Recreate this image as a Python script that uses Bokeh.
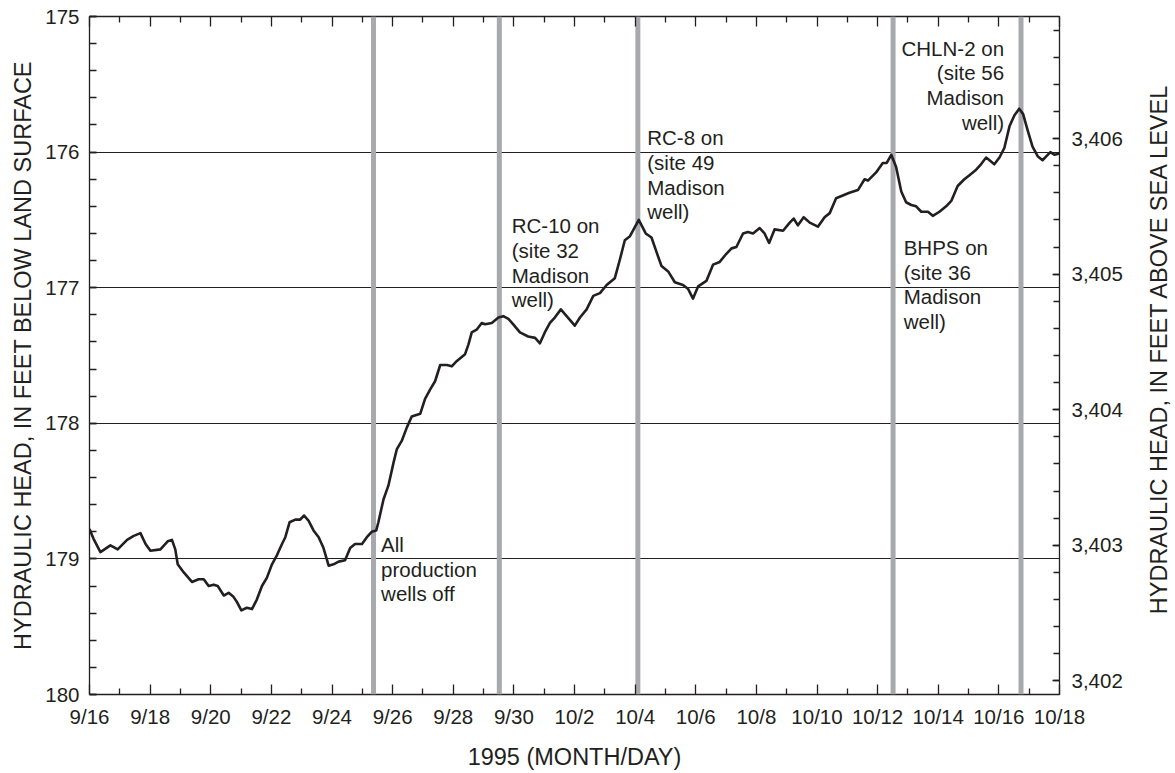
import math
import numpy as np
from bokeh.plotting import figure
from bokeh.layouts import row
from bokeh.models import (Range1d, LinearAxis, FixedTicker, Grid, NumeralTickFormatter)
from bokeh.core.properties import value
from bokeh.embed import file_html
from bokeh.resources import INLINE

# ---------------- data ----------------
# days since 9/16/1995
days = [0.00, 0.13, 0.36, 0.69, 0.93, 1.24, 1.46, 1.68, 1.85, 2.01, 2.34, 2.58, 2.72, 2.83,
        2.91, 3.11, 3.38, 3.60, 3.77, 3.93, 4.10, 4.23, 4.43, 4.59, 4.75, 4.87, 5.01, 5.19,
        5.36, 5.52, 5.69, 5.85, 6.02, 6.19, 6.35, 6.46, 6.60, 6.79, 6.95, 7.08, 7.23, 7.39,
        7.56, 7.72, 7.89, 8.05, 8.22, 8.43, 8.60, 8.76, 8.99, 9.15, 9.31, 9.46,
        9.53, 9.70, 9.86, 10.03, 10.14, 10.30, 10.47, 10.63, 10.91, 11.07, 11.24, 11.40,
        11.57, 11.79, 11.95, 12.12, 12.39, 12.50, 12.61, 12.77, 12.94, 13.05, 13.27, 13.49,
        13.65, 13.82, 13.98, 14.20, 14.47, 14.70, 14.86, 15.02, 15.19, 15.35, 15.55, 15.74,
        16.01, 16.18, 16.40, 16.62, 16.84, 17.06, 17.33, 17.50, 17.66, 17.83, 18.12,
        18.35, 18.54, 18.71, 18.87, 19.09, 19.31, 19.58, 19.75, 19.91, 20.08, 20.35, 20.57,
        20.79, 21.01, 21.18, 21.34, 21.56, 21.72, 21.89, 22.11, 22.27, 22.42, 22.60, 22.88,
        23.10, 23.23, 23.37, 23.56, 23.76, 24.03, 24.25, 24.42, 24.63, 24.85, 25.07, 25.35,
        25.57, 25.68, 25.95, 26.17, 26.30, 26.45,
        26.61, 26.78, 26.94, 27.11, 27.27, 27.44, 27.66, 27.82, 28.04, 28.26, 28.43, 28.64,
        28.86, 29.03, 29.25, 29.41, 29.58, 29.74, 29.85, 30.02, 30.18, 30.35, 30.51, 30.67,
        30.80, 30.95, 31.11, 31.28, 31.44, 31.57, 31.70, 31.84, 32.00]

head_ft = [178.78, 178.85, 178.95, 178.90, 178.93, 178.86, 178.83, 178.81, 178.89, 178.94,
           178.93, 178.87, 178.86, 178.93, 179.04, 179.10, 179.17, 179.15, 179.15, 179.20,
           179.19, 179.20, 179.27, 179.25, 179.28, 179.32, 179.38, 179.36, 179.37, 179.30,
           179.20, 179.14, 179.04, 178.97, 178.89, 178.84, 178.73, 178.71, 178.71, 178.68,
           178.72, 178.79, 178.84, 178.92, 179.05, 179.04, 179.02, 179.01, 178.92, 178.89,
           178.89, 178.84, 178.80, 178.79,
           178.73, 178.56, 178.46, 178.29, 178.19, 178.13, 178.03, 177.95, 177.93, 177.82,
           177.75, 177.69, 177.57, 177.57, 177.58, 177.54, 177.49, 177.42, 177.33, 177.31,
           177.26, 177.27, 177.26, 177.22, 177.21, 177.23, 177.27, 177.33, 177.36, 177.37,
           177.41, 177.33, 177.26, 177.22, 177.16, 177.21, 177.28, 177.22, 177.16, 177.06,
           177.04, 176.98, 176.93, 176.79, 176.65, 176.62, 176.50,
           176.60, 176.63, 176.74, 176.84, 176.88, 176.96, 176.98, 177.01, 177.08, 176.99,
           176.95, 176.83, 176.81, 176.75, 176.71, 176.70, 176.60, 176.59, 176.60, 176.56,
           176.60, 176.67, 176.57, 176.58, 176.52, 176.49, 176.54, 176.48, 176.52, 176.55,
           176.48, 176.45, 176.34, 176.32, 176.30, 176.28, 176.20, 176.21, 176.15, 176.08,
           176.08, 176.02,
           176.11, 176.29, 176.37, 176.39, 176.40, 176.44, 176.44, 176.47, 176.44, 176.40,
           176.36, 176.25, 176.20, 176.17, 176.13, 176.09, 176.04, 176.07, 176.09, 176.04,
           175.97, 175.81, 175.73, 175.68, 175.72, 175.84, 175.96, 176.03, 176.06, 176.03,
           176.00, 176.02, 176.01]

# days at which pumping changes occurred
event_days = [9.37, 13.52, 18.09, 26.51, 30.73]

# x tick labels
tick_days = [0, 2, 4, 6, 8, 10, 12, 14, 16, 18, 20, 22, 24, 26, 28, 30, 32]
tick_labels = ["9/16", "9/18", "9/20", "9/22", "9/24", "9/26", "9/28", "9/30", "10/2",
               "10/4", "10/6", "10/8", "10/10", "10/12", "10/14", "10/16", "10/18"]

left_ticks = [175, 176, 177, 178, 179, 180]
right_ticks = [3402, 3403, 3404, 3405, 3406]
datum_offset = 3581.90   # altitude (ft) = datum_offset - depth below land surface

# annotations (left-aligned)
ann_text = ["All\nproduction\nwells off",
            "RC-10 on\n(site 32\nMadison\nwell)",
            "RC-8 on\n(site 49\nMadison\nwell)",
            "BHPS on\n(site 36\nMadison\nwell)"]
ann_x = [9.62, 13.93, 18.40, 26.86]
ann_y = [178.81, 176.46, 175.81, 176.62]
# annotation (right-aligned)
ann_r_text = ["CHLN-2 on\n(site 56\nMadison\nwell)"]
ann_r_x = [30.17]
ann_r_y = [175.15]

right_title = "HYDRAULIC HEAD, IN FEET ABOVE SEA LEVEL"

# ---------------- figure ----------------
INK = "#231f20"
FONT = "Liberation Sans"
FS = "20.5px"
TS = "23.5px"
H = 772

p = figure(width=1145, height=H, output_backend="svg", toolbar_location=None,
           x_range=Range1d(0, 32), y_range=Range1d(180, 175),
           x_axis_type=None, y_axis_type=None,
           min_border_left=89, min_border_right=86, min_border_top=16, min_border_bottom=76)
p.extra_y_ranges = {"alt": Range1d(datum_offset - 180, datum_offset - 175)}
p.outline_line_color = INK
p.outline_line_width = 1.3
p.background_fill_color = "white"
p.border_fill_color = "white"

xticker = FixedTicker(ticks=tick_days, minor_ticks=list(range(1, 32, 2)))
yticker = FixedTicker(ticks=left_ticks,
                      minor_ticks=[round(v, 1) for v in np.arange(175, 180.01, 0.2)])
rticker = FixedTicker(ticks=right_ticks,
                      minor_ticks=[round(v, 1) for v in np.arange(3401.2, 3407.01, 0.2)])


def style(ax, major_in, minor_in):
    ax.axis_line_color = None
    ax.major_tick_in = major_in
    ax.major_tick_out = 0
    ax.minor_tick_in = minor_in
    ax.minor_tick_out = 0
    ax.major_tick_line_color = INK
    ax.minor_tick_line_color = INK
    ax.major_tick_line_width = 1.3
    ax.minor_tick_line_width = 1.3
    ax.major_label_text_font = FONT
    ax.major_label_text_font_size = FS
    ax.major_label_text_color = INK
    ax.axis_label_text_font = FONT
    ax.axis_label_text_font_size = TS
    ax.axis_label_text_font_style = "normal"
    ax.axis_label_text_color = INK


bottom = LinearAxis(ticker=xticker, axis_label="1995 (MONTH/DAY)",
                    major_label_overrides={d: l for d, l in zip(tick_days, tick_labels)})
style(bottom, 10, 6)
bottom.major_label_standoff = 10
bottom.axis_label_standoff = 13
p.add_layout(bottom, "below")

top = LinearAxis(ticker=xticker, major_label_overrides={d: "" for d in tick_days})
style(top, 10, 6)
top.major_label_text_font_size = "0px"
top.major_label_standoff = 0
p.add_layout(top, "above")

left = LinearAxis(ticker=yticker, axis_label="HYDRAULIC HEAD, IN FEET BELOW LAND SURFACE")
style(left, 7, 7)
left.major_label_standoff = 10
left.axis_label_standoff = 6
p.add_layout(left, "left")

right = LinearAxis(ticker=rticker, y_range_name="alt",
                   formatter=NumeralTickFormatter(format="0,0"))
style(right, 7, 6)
right.major_label_standoff = 12
p.add_layout(right, "right")

p.add_layout(Grid(dimension=1, ticker=yticker, grid_line_color=INK, grid_line_width=1))

# pumping-change markers
p.segment(x0=event_days, y0=[180] * len(event_days), x1=event_days, y1=[175] * len(event_days),
          line_color="#a7a9ac", line_width=5)

# hydrograph
p.line(days, head_ft, line_color=INK, line_width=2.6, line_join="round")

p.text(x=ann_x, y=ann_y, text=ann_text, text_font=value(FONT), text_font_size=FS,
       text_color=INK, text_baseline="top", text_align="left", text_line_height=1.07)
p.text(x=ann_r_x, y=ann_r_y, text=ann_r_text, text_font=value(FONT), text_font_size=FS,
       text_color=INK, text_baseline="top", text_align="right", text_line_height=1.07)

# narrow strip holding the right-hand axis title (reads bottom-to-top)
q = figure(width=30, height=H, output_backend="svg", toolbar_location=None,
           x_range=Range1d(0, 1), y_range=Range1d(0, 1),
           x_axis_type=None, y_axis_type=None, min_border=0)
q.outline_line_color = None
q.background_fill_color = "white"
q.border_fill_color = "white"
q.text(x=[0.45], y=[(H - 378) / H], text=[right_title], angle=math.pi / 2,
       text_font=value(FONT), text_font_size=TS, text_color=INK,
       text_align="center", text_baseline="middle")

layout = row(p, q, spacing=0)
open("out.html", "w").write(file_html(layout, INLINE))
